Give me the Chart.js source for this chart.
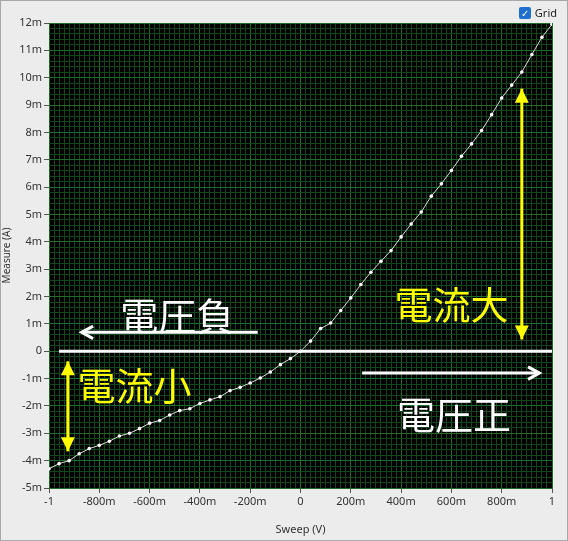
<!DOCTYPE html>
<html>
<head>
<meta charset="utf-8">
<script src="https://cdn.jsdelivr.net/npm/chart.js@4"></script>
<style>
  html, body { margin: 0; padding: 0; background: #ececec; }
  #wrap { position: relative; width: 568px; height: 541px; box-sizing: border-box; border: 1px solid #a8a8a8; }
  #grid { position: absolute; right: 10px; top: 4px; font: 11px "Noto Sans", sans-serif; color: #222; display: flex; align-items: center; }
  #grid span.box { width: 12px; height: 12px; background: #1f6fd0; border-radius: 2px; color: #fff; font-size: 10px; line-height: 12px; text-align: center; margin-right: 4px; }
</style>
</head>
<body>
<div id="wrap">
  <canvas id="ivCanvas" width="566" height="539"></canvas>
  <div id="grid"><span class="box">✓</span>Grid</div>
</div>
<script>
const sweepV = [-1, -0.96, -0.92, -0.88, -0.84, -0.8, -0.76, -0.72, -0.68, -0.64, -0.6, -0.56, -0.52,
    -0.48, -0.44, -0.4, -0.36, -0.32, -0.28, -0.24, -0.2, -0.16, -0.12, -0.08, -0.04, 0,
    0.04, 0.08, 0.12, 0.16, 0.2, 0.24, 0.28, 0.32, 0.36, 0.4, 0.44, 0.48, 0.52, 0.56, 0.6,
    0.64, 0.68, 0.72, 0.76, 0.8, 0.84, 0.88, 0.92, 0.96, 1];
// current in mA
const measureMA = [-4.30, -4.11, -4.00, -3.75, -3.56, -3.44, -3.29, -3.10, -3.00, -2.83, -2.63, -2.53, -2.33,
    -2.17, -2.10, -1.91, -1.78, -1.66, -1.44, -1.32, -1.16, -0.98, -0.76, -0.49, -0.27, 0.0,
    0.37, 0.83, 1.03, 1.49, 1.95, 2.44, 2.89, 3.29, 3.68, 4.18, 4.65, 5.09, 5.67, 6.12, 6.61,
    7.13, 7.58, 8.07, 8.65, 9.26, 9.73, 10.21, 10.85, 11.48, 11.95];
const xTickLabels = { "-1": "-1", "-0.8": "-800m", "-0.6": "-600m", "-0.4": "-400m", "-0.2": "-200m",
    "0": "0", "0.2": "200m", "0.4": "400m", "0.6": "600m", "0.8": "800m", "1": "1" };

// annotation texts and arrows, in data units (V, mA)
const notes = [
    { text: "電圧負", x: -0.49, y: 1.3, color: "#ffffff" },
    { text: "電圧正", x: 0.61, y: -2.3, color: "#ffffff" },
    { text: "電流小", x: -0.66, y: -1.25, color: "#ffff00" },
    { text: "電流大", x: 0.6, y: 1.7, color: "#ffff00" },
];
const arrows = [
    { x1: -0.17, y1: 0.69, x2: -0.87, y2: 0.69, color: "#ffffff", both: false },
    { x1: 0.245, y1: -0.8, x2: 0.95, y2: -0.8, color: "#ffffff", both: false },
    { x1: -0.925, y1: -0.37, x2: -0.925, y2: -3.66, color: "#ffff00", both: true },
    { x1: 0.88, y1: 9.6, x2: 0.88, y2: 0.43, color: "#ffff00", both: true },
];

function isMajor(v, step) {
    return Math.abs(v / step - Math.round(v / step)) < 1e-6;
}

function drawArrowHead(ctx, x1, y1, x2, y2) {
    const ang = Math.atan2(y2 - y1, x2 - x1);
    const len = 13;
    ctx.beginPath();
    ctx.moveTo(x2 - len * Math.cos(ang - 0.5), y2 - len * Math.sin(ang - 0.5));
    ctx.lineTo(x2, y2);
    ctx.lineTo(x2 - len * Math.cos(ang + 0.5), y2 - len * Math.sin(ang + 0.5));
    ctx.stroke();
}

const plotBackground = {
    id: "plotBackground",
    beforeDraw(chart) {
        const { ctx, chartArea: a } = chart;
        ctx.save();
        ctx.fillStyle = "#000000";
        ctx.fillRect(a.left, a.top, a.right - a.left, a.bottom - a.top);
        ctx.restore();
    },
};

const annotations = {
    id: "annotations",
    afterDatasetsDraw(chart) {
        const { ctx, scales: { x, y } } = chart;
        ctx.save();
        // zero line
        ctx.strokeStyle = "#ffffff";
        ctx.lineWidth = 3;
        ctx.beginPath();
        ctx.moveTo(x.getPixelForValue(-0.96), y.getPixelForValue(0));
        ctx.lineTo(x.getPixelForValue(1), y.getPixelForValue(0));
        ctx.stroke();
        arrows.forEach((ar) => {
            const px1 = x.getPixelForValue(ar.x1), py1 = y.getPixelForValue(ar.y1);
            const px2 = x.getPixelForValue(ar.x2), py2 = y.getPixelForValue(ar.y2);
            ctx.strokeStyle = ar.color;
            ctx.lineWidth = 3;
            ctx.beginPath();
            ctx.moveTo(px1, py1);
            ctx.lineTo(px2, py2);
            ctx.stroke();
            if (ar.both) {
                ctx.fillStyle = ar.color;
                [[px1, py1, px2, py2], [px2, py2, px1, py1]].forEach(([ax, ay, bx, by]) => {
                    const dir = Math.sign(by - ay);
                    ctx.beginPath();
                    ctx.moveTo(bx, by);
                    ctx.lineTo(bx - 7, by - dir * 14);
                    ctx.lineTo(bx + 7, by - dir * 14);
                    ctx.closePath();
                    ctx.fill();
                });
            } else {
                drawArrowHead(ctx, px1, py1, px2, py2);
            }
        });
        ctx.font = '38px "Noto Sans CJK JP"';
        ctx.textAlign = "center";
        ctx.textBaseline = "middle";
        notes.forEach((n) => {
            ctx.fillStyle = n.color;
            ctx.fillText(n.text, x.getPixelForValue(n.x), y.getPixelForValue(n.y));
        });
        ctx.restore();
    },
};

const tickFont = { family: "Noto Sans", size: 11 };

const data = {
    datasets: [
        {
            label: "Measure",
            data: sweepV.map((v, i) => ({ x: v, y: measureMA[i] })),
            borderColor: "#d8d8d8",
            backgroundColor: "#ffffff",
            borderWidth: 1,
            pointRadius: 1.8,
            pointBorderWidth: 0,
            pointBackgroundColor: "#ffffff",
        },
    ],
};

const config = {
    type: "line",
    data: data,
    options: {
        responsive: false,
        animation: false,
        layout: { padding: { top: 22, right: 15, left: 0, bottom: 0 } },
        plugins: { legend: { display: false }, tooltip: { enabled: false } },
        scales: {
            x: {
                type: "linear",
                min: -1,
                max: 1,
                afterFit(scale) { scale.height = 52; },
                ticks: {
                    stepSize: 0.02,
                    autoSkip: false,
                    maxTicksLimit: 1000,
                    maxRotation: 0,
                    color: "#333",
                    font: tickFont,
                    padding: 2,
                    callback: (v) => isMajor(v, 0.2) ? xTickLabels[String(Math.round(v * 10) / 10)] : "",
                },
                grid: {
                    color: (c) => isMajor(c.tick.value, 0.2) ? "#1f6b2a" : "#14461b",
                    tickColor: (c) => isMajor(c.tick.value, 0.2) ? "#555" : "rgba(0,0,0,0)",
                    tickLength: 5,
                },
                border: { display: false },
                title: { display: true, text: "Sweep (V)", color: "#333", font: tickFont, padding: { top: 4 } },
            },
            y: {
                type: "linear",
                min: -5,
                max: 12,
                afterFit(scale) { scale.width = 48; },
                ticks: {
                    stepSize: 0.2,
                    autoSkip: false,
                    maxTicksLimit: 1000,
                    color: "#333",
                    font: tickFont,
                    padding: 2,
                    callback: (v) => {
                        if (!isMajor(v, 1)) return "";
                        const n = Math.round(v);
                        return n === 0 ? "0" : n + "m";
                    },
                },
                grid: {
                    color: (c) => isMajor(c.tick.value, 1) ? "#1f6b2a" : "#14461b",
                    tickColor: (c) => isMajor(c.tick.value, 1) ? "#555" : "rgba(0,0,0,0)",
                    tickLength: 5,
                },
                border: { display: false },
                title: { display: true, text: "Measure (A)", color: "#333", font: { family: "Noto Sans", size: 10 }, padding: 0 },
            },
        },
    },
};

const ivChart = new Chart(document.getElementById("ivCanvas"), {
    ...config,
    plugins: [plotBackground, annotations],
});
</script>
</body>
</html>
